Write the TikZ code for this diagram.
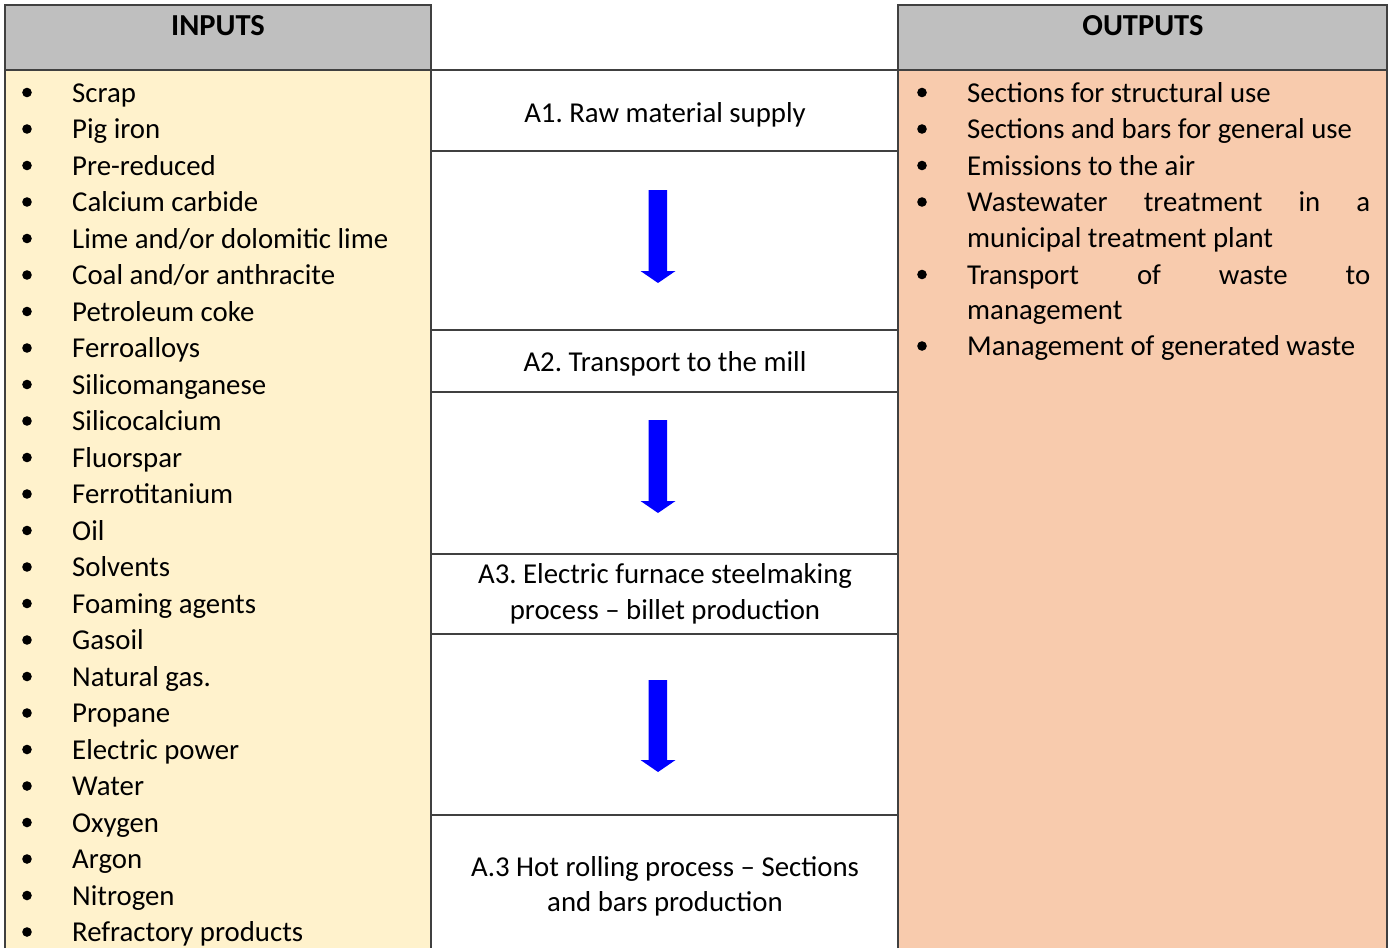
\documentclass[tikz,border=0pt]{standalone}
\usepackage{fontspec}
\setmainfont{Carlito}
\newcommand\myfs{\fontsize{28.8}{36}\selectfont}
\definecolor{hdrgray}{HTML}{BFBFBF}
\definecolor{inbg}{HTML}{FFF2CC}
\definecolor{outbg}{HTML}{F8CBAD}
\definecolor{rule}{HTML}{404040}
\definecolor{arrowblue}{HTML}{0000FF}
\tikzset{
  gridline/.style={draw=rule, line width=1.1pt},
  txt/.style={inner sep=0pt, font=\myfs, text=black},
  hdrtxt/.style={inner sep=0pt, font=\fontsize{30.5}{36}\selectfont\bfseries, text=black, anchor=base},
  bul/.style={fill=black},
  flowarrow/.style={fill=arrowblue},
}
\frenchspacing
\begin{document}
\frenchspacing
\begin{tikzpicture}[x=1pt,y=-1pt]
\useasboundingbox (0,0) rectangle (1392,948);
% backgrounds
\fill[hdrgray] (5,5) rectangle (431,70);
\fill[inbg] (5,70) rectangle (431,948);
\fill[hdrgray] (898,5) rectangle (1387,70);
\fill[outbg] (898,70) rectangle (1387,948);
% column borders
\draw[gridline] (5,948) -- (5,5) -- (431,5) -- (431,948);
\draw[gridline] (5,70) -- (431,70);
\draw[gridline] (898,948) -- (898,5) -- (1387,5) -- (1387,948);
\draw[gridline] (898,70) -- (1387,70);
% middle rules
\foreach \yy in {70,151,330,392,554,634,815}
  \draw[gridline] (431,\yy) -- (898,\yy);
% headers
\node[hdrtxt] (hin) at (218,35) {INPUTS};
\node[hdrtxt] (hout) at (1143,35) {OUTPUTS};
% inputs
\foreach \t [count=\i] in {Scrap,Pig iron,Pre-reduced,Calcium carbide,Lime and/or dolomitic lime,Coal and/or anthracite,Petroleum coke,Ferroalloys,Silicomanganese,Silicocalcium,Fluorspar,Ferrotitanium,Oil,Solvents,Foaming agents,Gasoil,Natural gas.,Propane,Electric power,Water,Oxygen,Argon,Nitrogen,Refractory products}
{
  \fill[bul] (27,{92.5+36.5*(\i-1)}) circle (4.8);
  \node[txt, anchor=base west] (in\i) at (72,{102+36.5*(\i-1)}) {\t};
}
% outputs
\fill[bul] (922,92.5) circle (4.8);
\node[txt, anchor=base west] (out1) at (967,102) {Sections for structural use};
\fill[bul] (922,129) circle (4.8);
\node[txt, anchor=base west] (out2) at (967,138.5) {Sections and bars for general use};
\fill[bul] (922,165.5) circle (4.8);
\node[txt, anchor=base west] (out3) at (967,175) {Emissions to the air};
\fill[bul] (922,202) circle (4.8);
\node[txt, anchor=base west] (out4a) at (967,211.5) {\makebox[403pt][s]{Wastewater treatment in a}};
\node[txt, anchor=base west] (out4b) at (967,247) {municipal treatment plant};
\fill[bul] (922,274.5) circle (4.8);
\node[txt, anchor=base west] (out5a) at (967,284) {\makebox[403pt][s]{Transport of waste to}};
\node[txt, anchor=base west] (out5b) at (967,319.5) {management};
\fill[bul] (922,346) circle (4.8);
\node[txt, anchor=base west] (out6) at (967,355.5) {Management of generated waste};
% process steps
\node[txt, anchor=base] (a1) at (665,122) {A1. Raw material supply};
\node[txt, anchor=base] (a2) at (665,371) {A2. Transport to the mill};
\node[txt, anchor=base] (a3a) at (665,583) {A3. Electric furnace steelmaking};
\node[txt, anchor=base] (a3b) at (665,619) {process -- billet production};
\node[txt, anchor=base] (a4a) at (665,876) {A.3 Hot rolling process -- Sections};
\node[txt, anchor=base] (a4b) at (665,911) {and bars production};
% arrows
\foreach \top/\tip in {190/283, 420/513, 680/772}
  \fill[flowarrow] (648.5,\top) -- (667,\top) -- (667,{\tip-12}) -- (675.5,{\tip-12})
     -- (658,\tip) -- (640.5,{\tip-12}) -- (648.5,{\tip-12}) -- cycle;
\end{tikzpicture}
\end{document}
